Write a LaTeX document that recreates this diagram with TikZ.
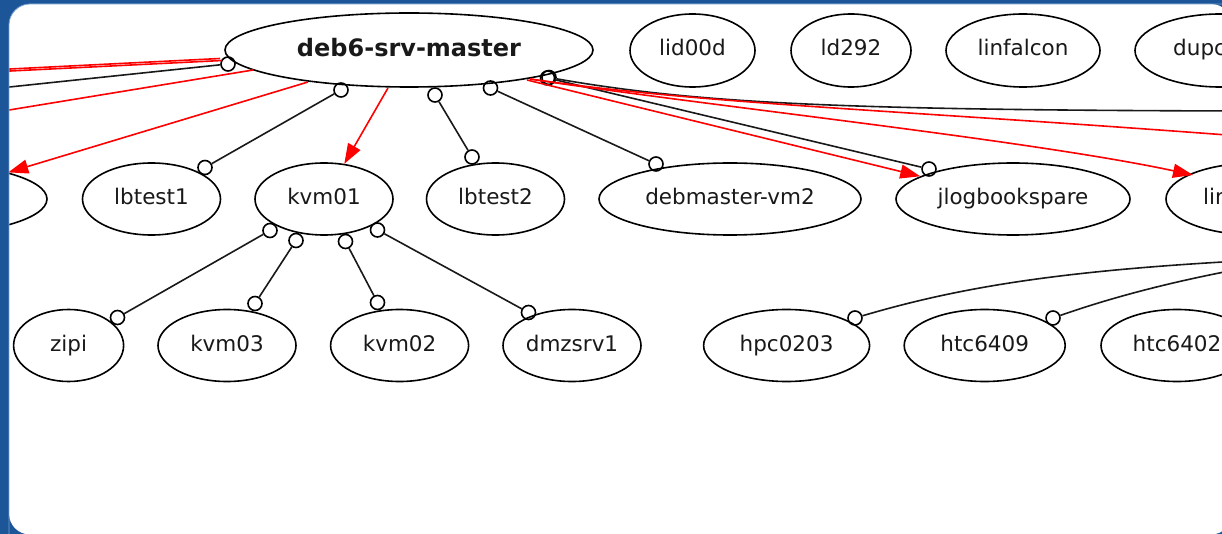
\documentclass[tikz,border=0pt]{standalone}
\usepackage{fontspec}
\setmainfont{DejaVu Sans}
\usetikzlibrary{shapes.geometric,arrows.meta}
\definecolor{frameblue}{RGB}{28,86,152}
\definecolor{framelight}{RGB}{120,160,210}
\definecolor{edgered}{RGB}{255,0,0}
\begin{document}
\begin{tikzpicture}[x=1pt,y=-1pt,
  host/.style={ellipse, draw=black, line width=1.6pt, inner sep=0pt, text=black!90,
    font=\fontsize{21.5}{25}\selectfont, text height=16pt, text depth=5pt},
  ell/.style 2 args={minimum width=#1pt, minimum height=#2pt},
  lbl/.style={inner sep=0pt, text=black!90, font=\fontsize{21.5}{25}\selectfont,
    text height=16pt, text depth=5pt},
  odot/.style={circle, draw=black, line width=1.6pt, minimum size=14pt, inner sep=0pt},
  link/.style={line width=1.6pt, draw=black!90},
  redline/.style={line width=1.6pt, draw=edgered},
  redarrow/.style={redline, -{Triangle[length=20pt,width=14pt]}}]
\useasboundingbox (0,0) rectangle (1222,534);
\fill[frameblue] (0,0) rectangle (1222,534);
\fill[white, rounded corners=21pt] (9,4) rectangle (1232,534.5);
\draw[framelight, line width=0.8pt, rounded corners=21pt] (9,560) -- (9,4) -- (1250,4);
\begin{scope}
\clip[rounded corners=21pt] (9.4,4.4) rectangle (1232,534.5);

% ---- nodes, row 1
\node[host, ell={368}{74}, font=\bfseries\fontsize{24}{28}\selectfont,
  text height=18pt, text depth=4pt] (deb6) at (409,50) {deb6-srv-master};
\node[host, ell={125}{73}] (lid00d) at (692.5,50.5) {lid00d};
\node[host, ell={120}{73}] (ld292) at (851,50.5) {ld292};
\node[host, ell={154}{73}] (linfalcon) at (1023,50.5) {linfalcon};
\node[host, ell={170}{73}] (dupc) at (1220,50.5) {};
\node[lbl, anchor=west] (dupct) at (1173,50.5) {dupc};

% ---- row 2
\node[host, ell={254}{72}] (leftcut) at (-80,199) {};
\node[host, ell={138}{72}] (lbtest1) at (151.5,199) {lbtest1};
\node[host, ell={138}{72}] (kvm01) at (324,199) {kvm01};
\node[host, ell={138}{72}] (lbtest2) at (495.5,199) {lbtest2};
\node[host, ell={262}{72}] (dvm2) at (730,199) {debmaster-vm2};
\node[host, ell={234}{72}] (jlog) at (1013,199) {jlogbookspare};
\node[host, ell={180}{72}] (lin) at (1256,199) {};
\node[lbl, anchor=west] (lint) at (1203,199) {lin};

% ---- row 3
\node[host, ell={110}{72}] (zipi) at (68.6,345.5) {zipi};
\node[host, ell={138}{72}] (kvm03) at (227,345.5) {kvm03};
\node[host, ell={138}{72}] (kvm02) at (399.6,345.5) {kvm02};
\node[host, ell={138}{72}] (dmzsrv1) at (572,345.5) {dmzsrv1};
\node[host, ell={166}{72}] (hpc0203) at (786.6,345.5) {hpc0203};
\node[host, ell={161}{72}] (htc6409) at (984.7,345.5) {htc6409};
\node[host, ell={152}{72}] (htc6402) at (1177,345.5) {htc6402};

% ---- odot end markers
\node[odot] (cDL) at (228,64) {};
\node[odot] (cD1) at (341,90) {};
\node[odot] (cL1) at (205,167.5) {};
\node[odot] (cD2) at (435,95) {};
\node[odot] (cL2) at (472,157) {};
\node[odot] (cD3) at (490.5,88) {};
\node[odot] (cV2) at (656,164) {};
\node[odot] (cDR) at (547.5,78) {};
\node[odot] (cDRb) at (549,77.5) {};
\node[odot] (cJ) at (929,169) {};
\node[odot] (cK1) at (270,230.5) {};
\node[odot] (cZ) at (117.5,317.5) {};
\node[odot] (cK2) at (296,240.5) {};
\node[odot] (cK3n) at (255,303.5) {};
\node[odot] (cK3) at (345.5,241.5) {};
\node[odot] (cK2n) at (377.5,302.5) {};
\node[odot] (cK4) at (377.5,230) {};
\node[odot] (cDm) at (528.5,312.5) {};
\node[odot] (cH) at (855,318) {};
\node[odot] (cT) at (1053,318) {};

% ---- free ends and edge starts
\coordinate (eL0) at (0,88);
\coordinate (rA1) at (220,58.5);
\coordinate (rA2) at (222,60.5);
\coordinate (eA1) at (0,69.5);
\coordinate (eA2) at (0,71.5);
\coordinate (rB) at (253,70);
\coordinate (eB) at (0,111.5);
\coordinate (rC) at (308,82);
\coordinate (rK) at (388,88);
\coordinate (rJ) at (527,80);
\coordinate (rR) at (530,79);
\coordinate (tLin) at (1193,175);
\coordinate (eR1) at (1240,111);
\coordinate (eR2) at (1240,136);
\coordinate (eH) at (1240,261);
\coordinate (eT) at (1240,269);

% ---- black edges
\draw[link] (cDL) -- (eL0);
\draw[link] (cD1) -- (cL1);
\draw[link] (cD2) -- (cL2);
\draw[link] (cD3) -- (cV2);
\draw[link] (cDR) -- (cJ);
\draw[link] (cDRb) .. controls (700,104) and (850,110) .. (eR1);
\draw[link] (cK1) -- (cZ);
\draw[link] (cK2) -- (cK3n);
\draw[link] (cK3) -- (cK2n);
\draw[link] (cK4) -- (cDm);
\draw[link] (cH) .. controls (960,287) and (1060,271) .. (eH);
\draw[link] (cT) .. controls (1110,298) and (1170,282) .. (eT);

% ---- red edges
\draw[redline] (rA1) -- (eA1);
\draw[redline] (rA2) -- (eA2);
\draw[redline] (rB) -- (eB);
\draw[redarrow] (rC) -- (leftcut);
\draw[redarrow] (rK) -- (kvm01);
\draw[redarrow] (rJ) -- (jlog);
\draw[redarrow] (rR) .. controls (700,105) and (1030,140) .. (tLin);
\draw[redline] (rR) .. controls (700,104) and (900,110) .. (eR2);
\end{scope}
\end{tikzpicture}
\end{document}
